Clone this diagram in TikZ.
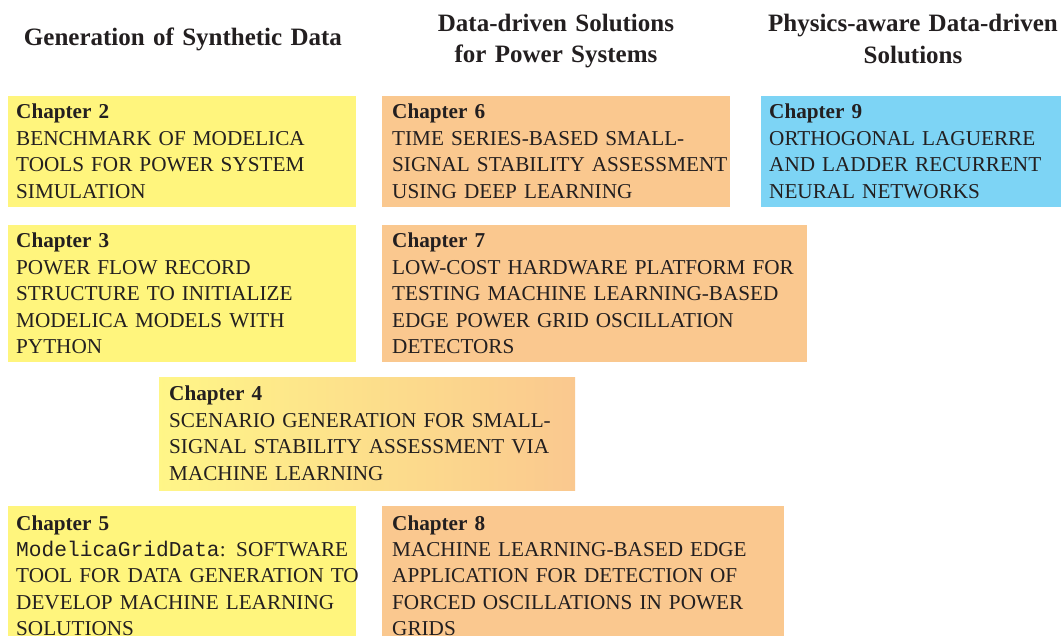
\documentclass[tikz,border=0pt]{standalone}
\usepackage{fontspec}
\setmainfont{Liberation Serif}
\setmonofont{Liberation Mono}
\definecolor{txt}{RGB}{35,31,32}
\definecolor{chyellow}{RGB}{255,245,125}
\definecolor{chorange}{RGB}{250,200,143}
\definecolor{chblue}{RGB}{125,212,245}
\begin{document}
\begin{tikzpicture}[x=1pt,y=-1pt,
  heading/.style={font=\fontsize{25}{31.2}\selectfont\bfseries, text=txt,
    align=center, text width=330pt, inner sep=0pt, anchor=base},
  chtext/.style={font=\fontsize{21.2}{26.4}\selectfont, text=txt,
    align=left, text width=430pt, inner sep=0pt, anchor=base west}]
  % page frame
  \useasboundingbox (0,0) rectangle (1061,636);
  \clip (0,0) rectangle (1061,636);

  % column headings
  \node[heading] (hsyn) at (183,45.7) {Generation of Synthetic Data};
  \node[heading] (hdd)  at (556,31.7) {Data-driven Solutions\\for Power Systems};
  \node[heading] (hpa)  at (913,32)   {Physics-aware Data-driven\\Solutions};

  % chapter boxes
  \fill[chyellow] (8,96)    rectangle (356,207);
  \fill[chorange] (382,96)  rectangle (730,207);
  \fill[chblue]   (761,96)  rectangle (1061,207);
  \fill[chyellow] (8,225)   rectangle (356,362);
  \fill[chorange] (382,225) rectangle (807,362);
  \shade[left color=chyellow!92!white, right color=chorange] (159,378) rectangle (575,490);
  \fill[chyellow] (8,506)   rectangle (356,660);
  \fill[chorange] (382,506) rectangle (784,660);

  % chapter texts
  \node[chtext] (c2) at (16,119)
    {\textbf{Chapter 2}\\BENCHMARK OF MODELICA\\TOOLS FOR POWER SYSTEM\\SIMULATION};
  \node[chtext] (c6) at (392,119)
    {\textbf{Chapter 6}\\TIME SERIES-BASED SMALL-\\SIGNAL STABILITY ASSESSMENT\\USING DEEP LEARNING};
  \node[chtext] (c9) at (769,119)
    {\textbf{Chapter 9}\\ORTHOGONAL LAGUERRE\\AND LADDER RECURRENT\\NEURAL NETWORKS};
  \node[chtext] (c3) at (16,248)
    {\textbf{Chapter 3}\\POWER FLOW RECORD\\STRUCTURE TO INITIALIZE\\MODELICA MODELS WITH\\PYTHON};
  \node[chtext] (c7) at (392,248)
    {\textbf{Chapter 7}\\LOW-COST HARDWARE PLATFORM FOR\\TESTING MACHINE LEARNING-BASED\\EDGE POWER GRID OSCILLATION\\DETECTORS};
  \node[chtext] (c4) at (169,401)
    {\textbf{Chapter 4}\\SCENARIO GENERATION FOR SMALL-\\SIGNAL STABILITY ASSESSMENT VIA\\MACHINE LEARNING};
  \node[chtext] (c5) at (16,530)
    {\textbf{Chapter 5}\\\texttt{ModelicaGridData}: SOFTWARE\\TOOL FOR DATA GENERATION TO\\DEVELOP MACHINE LEARNING\\SOLUTIONS};
  \node[chtext] (c8) at (392,530)
    {\textbf{Chapter 8}\\MACHINE LEARNING-BASED EDGE\\APPLICATION FOR DETECTION OF\\FORCED OSCILLATIONS IN POWER\\GRIDS};
\end{tikzpicture}
\end{document}
